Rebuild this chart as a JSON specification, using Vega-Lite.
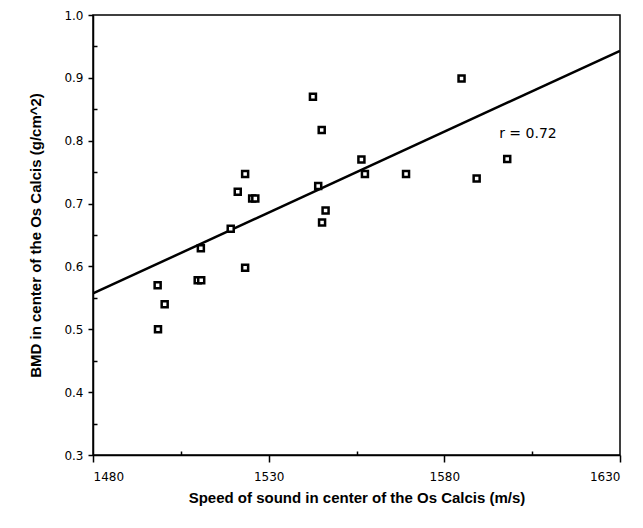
{
  "$schema": "https://vega.github.io/schema/vega-lite/v6.json",
  "width": 527,
  "height": 440,
  "autosize": "none",
  "padding": {"left": 93, "top": 15, "right": 23, "bottom": 73},
  "background": "white",
  "config": {
    "view": {"stroke": "black", "strokeWidth": 1.5},
    "axis": {
      "domainColor": "black",
      "domainWidth": 1.5,
      "tickColor": "black",
      "tickWidth": 1.5,
      "grid": false,
      "labelColor": "black",
      "titleColor": "black",
      "labelFont": "DejaVu Sans",
      "labelFontSize": 12,
      "titleFont": "Liberation Sans",
      "titleFontWeight": "bold",
      "titleFontSize": 15
    }
  },
  "resolve": {"axis": {"x": "independent", "y": "independent"}},
  "datasets": {
    "points": [
      {"sos": 1523.3, "bmd": 0.747},
      {"sos": 1521.2, "bmd": 0.719},
      {"sos": 1525.3, "bmd": 0.708},
      {"sos": 1526.2, "bmd": 0.708},
      {"sos": 1519.2, "bmd": 0.660},
      {"sos": 1510.7, "bmd": 0.629},
      {"sos": 1523.3, "bmd": 0.598},
      {"sos": 1509.8, "bmd": 0.578},
      {"sos": 1510.8, "bmd": 0.578},
      {"sos": 1498.4, "bmd": 0.570},
      {"sos": 1500.4, "bmd": 0.540},
      {"sos": 1498.5, "bmd": 0.500},
      {"sos": 1544.1, "bmd": 0.728},
      {"sos": 1546.2, "bmd": 0.689},
      {"sos": 1545.2, "bmd": 0.670},
      {"sos": 1556.4, "bmd": 0.770},
      {"sos": 1557.4, "bmd": 0.747},
      {"sos": 1569.1, "bmd": 0.747},
      {"sos": 1545.1, "bmd": 0.817},
      {"sos": 1542.6, "bmd": 0.870},
      {"sos": 1584.9, "bmd": 0.899},
      {"sos": 1597.9, "bmd": 0.771},
      {"sos": 1589.2, "bmd": 0.740}
    ],
    "fit": [
      {"sos": 1480, "bmd": 0.557},
      {"sos": 1630, "bmd": 0.943}
    ],
    "label": [
      {"sos": 1595.6, "bmd": 0.805, "text": "r = 0.72"}
    ]
  },
  "layer": [
    {
      "data": {"name": "fit"},
      "mark": {"type": "line", "color": "black", "strokeWidth": 2.5, "clip": true},
      "encoding": {
        "x": {
          "field": "sos", "type": "quantitative",
          "scale": {"domain": [1480, 1630], "nice": false, "zero": false},
          "axis": {
            "orient": "bottom",
            "title": "Speed of sound in center of the Os Calcis (m/s)",
            "values": [1480, 1530, 1580, 1630],
            "format": "d",
            "tickSize": 7,
            "labelPadding": 9,
            "titlePadding": 8
          }
        },
        "y": {
          "field": "bmd", "type": "quantitative",
          "scale": {"domain": [0.3, 1.0], "nice": false, "zero": false},
          "axis": {
            "orient": "left",
            "title": "BMD in center of the Os Calcis (g/cm^2)",
            "values": [0.3, 0.4, 0.5, 0.6, 0.7, 0.8, 0.9, 1.0],
            "format": ".1f",
            "tickSize": 5,
            "labelPadding": 5,
            "titlePadding": 20
          }
        }
      }
    },
    {
      "data": {"name": "points"},
      "mark": {"type": "point", "shape": "square", "size": 36, "filled": false, "fill": "white", "fillOpacity": 1, "stroke": "black", "strokeWidth": 2.5, "opacity": 1},
      "encoding": {
        "x": {
          "field": "sos", "type": "quantitative",
          "axis": {"orient": "bottom", "title": null, "values": [1505, 1555, 1605], "labels": false, "domain": false, "tickSize": -4}
        },
        "y": {
          "field": "bmd", "type": "quantitative",
          "axis": {"orient": "left", "title": null, "values": [0.35, 0.45, 0.55, 0.65, 0.75, 0.85, 0.95], "labels": false, "domain": false, "tickSize": -4}
        }
      }
    },
    {
      "data": {"name": "label"},
      "mark": {"type": "text", "align": "left", "baseline": "alphabetic", "font": "DejaVu Sans", "fontSize": 14, "color": "black"},
      "encoding": {
        "x": {"field": "sos", "type": "quantitative", "axis": null},
        "y": {"field": "bmd", "type": "quantitative", "axis": null},
        "text": {"field": "text"}
      }
    }
  ]
}
